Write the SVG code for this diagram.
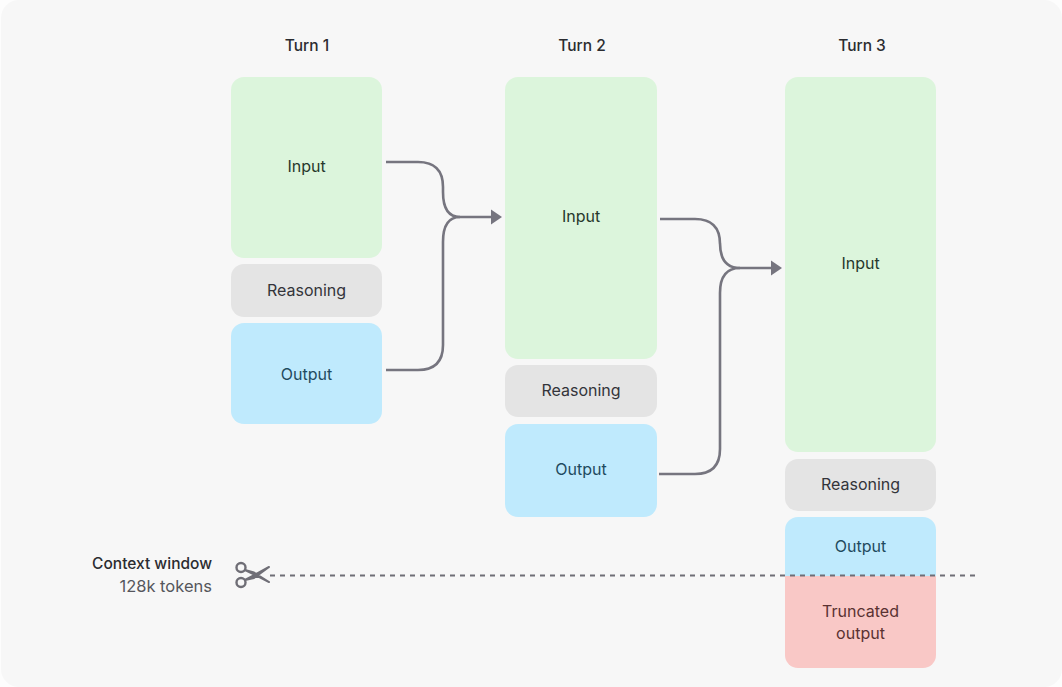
<svg xmlns="http://www.w3.org/2000/svg" width="1062" height="687" viewBox="0 0 1062 687">
<style>
text{font-family:Inter,"Liberation Sans",sans-serif;font-size:16px;text-anchor:middle;fill:#33343a}
.h{font-weight:500;font-size:15.500px;fill:#2b2c30}
.in{fill:#dcf5dc}.re{fill:#e4e4e4}.ou{fill:#bfeafd}.tr{fill:#f9c8c6}
.in+text{fill:#27382c}.ou+text{fill:#1f4a60}.tr+text{fill:#5a3232}
.c{fill:none;stroke:#76757f;stroke-width:2.600}
.sc{fill:none;stroke:#6f6e76;stroke-width:2.400}
</style>
<defs><marker id="a" markerUnits="userSpaceOnUse" markerWidth="14" markerHeight="18" refX="1" refY="9" orient="auto"><path d="M1 1.500L12 9L1 16.500Z" fill="#76757f"/></marker></defs>
<rect width="1062" height="687" fill="#fdfdfd"/>
<rect x="1" y="0" width="1061" height="687" rx="18" fill="#f7f7f7"/>
<g id="turn1">
<text class="h" x="307" y="51">Turn 1</text>
<g id="t1-input"><rect class="in" x="231" y="77" width="151" height="181" rx="13"/><text x="306.500" y="172">Input</text></g>
<g id="t1-reasoning"><rect class="re" x="231" y="264" width="151" height="53" rx="13"/><text x="306.500" y="296">Reasoning</text></g>
<g id="t1-output"><rect class="ou" x="231" y="323" width="151" height="101" rx="13"/><text x="306.500" y="380">Output</text></g>
</g>
<g id="turn2">
<text class="h" x="582" y="51">Turn 2</text>
<g id="t2-input"><rect class="in" x="505" y="77" width="152" height="282" rx="13"/><text x="581" y="222">Input</text></g>
<g id="t2-reasoning"><rect class="re" x="505" y="365" width="152" height="52" rx="13"/><text x="581" y="396">Reasoning</text></g>
<g id="t2-output"><rect class="ou" x="505" y="424" width="152" height="93" rx="13"/><text x="581" y="475">Output</text></g>
</g>
<g id="turn3">
<text class="h" x="862" y="51">Turn 3</text>
<g id="t3-input"><rect class="in" x="785" y="77" width="151" height="375" rx="13"/><text x="860.500" y="269">Input</text></g>
<g id="t3-reasoning"><rect class="re" x="785" y="459" width="151" height="52" rx="13"/><text x="860.500" y="490">Reasoning</text></g>
<g id="t3-output"><path class="ou" d="M785 576V530a13 13 0 0 1 13-13h125a13 13 0 0 1 13 13V576Z"/><text x="860.500" y="552">Output</text></g>
<g id="t3-truncated"><path class="tr" d="M785 576H936V655a13 13 0 0 1-13 13H798a13 13 0 0 1-13-13Z"/><text x="860.500" y="617">Truncated<tspan x="860.500" y="639">output</tspan></text></g>
</g>
<g id="connectors">
<path class="c" d="M386 162H418Q443 162 443 187V192Q443 217 460 217"/>
<path class="c" d="M386 370H418Q443 370 443 345V242Q443 217 460 217H491" marker-end="url(#a)"/>
<path class="c" d="M660 219H695Q720 219 720 244V243Q720 268 740 268"/>
<path class="c" d="M659 474H695Q720 474 720 449V293Q720 268 740 268H771" marker-end="url(#a)"/>
<path d="M270 575.500H977" fill="none" stroke="#6f6e76" stroke-width="2" stroke-dasharray="5 5"/>
</g>
<g id="context-window">
<text class="h" x="212" y="569" style="text-anchor:end">Context window</text>
<text x="212" y="592" style="text-anchor:end;font-size:16.500px;fill:#55565c">128k tokens</text>
<g id="scissors">
<circle class="sc" cx="241" cy="567.500" r="4.500"/><circle class="sc" cx="241" cy="582.500" r="4.500"/>
<path d="M245 570L269 582L254 572.500Z M245 580L269 567L254 578Z" fill="#6f6e76" stroke="#6f6e76" stroke-width="2" stroke-linejoin="round"/>
</g>
</g>
</svg>
